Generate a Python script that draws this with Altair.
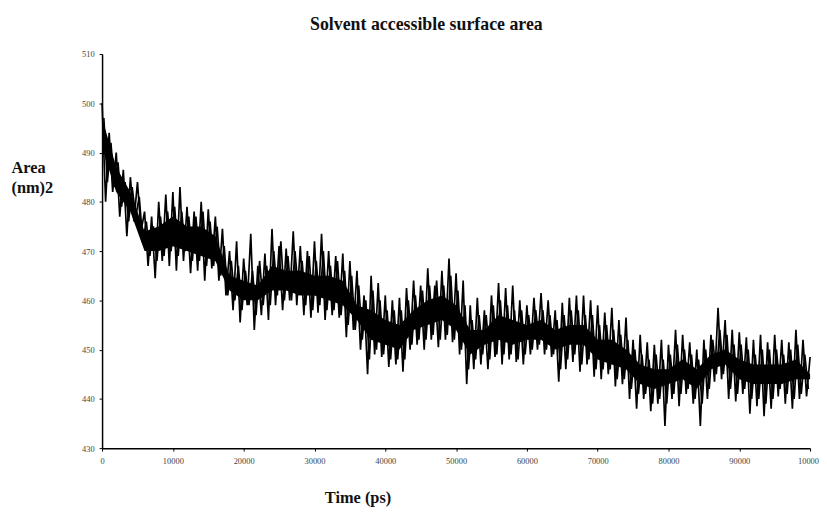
import altair as alt
import pandas as pd

# Outer spike tops, read every 1000 ps (t = 0 .. 100000)
peak_vals = [500, 494, 490, 486.5, 485, 484, 478, 477, 480, 481.5,
             482, 483, 479, 478, 480, 478.5, 477, 474.5, 470, 472,
             468.5, 473.5, 467, 469.5, 474.5, 471, 470.5, 474, 471, 470,
             472, 473.5, 470, 469, 469.5, 468, 466, 461, 465, 463.5,
             461, 460, 460.5, 462.5, 464, 463, 466.5, 463, 466, 468.5,
             465.5, 464, 459, 460.5, 458, 461, 463.5, 462.5, 463, 460,
             459, 460.5, 461.5, 460, 458, 459.5, 460.5, 461, 461, 460,
             459, 457.5, 458.5, 456, 456.5, 452, 453, 451.5, 451, 452,
             451, 454, 453, 451.5, 450, 452, 453, 458.5, 456, 454,
             453.5, 452.5, 452, 453, 451.5, 453, 452, 451.5, 454, 452,
             448.5]

# Outer spike bottoms, read every 1000 ps (t = 500 .. 99500)
trough_vals = [480, 482, 477, 473, 476, 474, 467, 464.5, 468, 467,
               466, 468, 465.5, 466, 464, 466.5, 464, 461, 458, 455.5,
               459, 454, 457, 456, 459, 458, 460, 459, 457, 456.5,
               457.5, 456, 457, 456.5, 452.5, 454, 450, 445, 449, 448.5,
               446.5, 447, 445.5, 450, 451, 450, 452, 450.5, 452, 451.5,
               449, 443, 446, 447, 446, 448.5, 447, 448, 447.5, 447,
               449, 450, 449, 448.5, 443.5, 446, 447.5, 445.5, 447, 444.5,
               444, 445, 442.5, 443, 440, 438, 440, 437.5, 439, 434.5,
               440, 438.5, 441, 439, 434.5, 440, 443.5, 444, 440, 439.5,
               441, 437, 438.5, 436.5, 438, 440.5, 439, 438, 440, 440.5]

# Inner fluctuation tops, every 1000 ps (t = 250 .. 99250)
inner_peak = [497, 492, 488, 484, 483, 481, 476, 475, 477, 478,
              479, 478, 477, 477, 478, 476, 475, 471, 468, 467,
              466, 466, 468, 467, 470, 472, 469, 470, 468, 469,
              468, 470, 467, 468, 466, 465, 463, 460, 462, 460,
              458, 458, 458, 460, 461, 462, 463, 464, 463, 465,
              462, 459, 456, 457, 457, 459, 460, 459, 458, 458,
              457, 458, 458, 457, 456, 457, 458, 458, 457, 457,
              455, 455, 454, 453, 452, 450, 449, 448, 449, 448,
              449, 451, 450, 449, 448, 450, 452, 454, 453, 451,
              451, 450, 449, 450, 450, 450, 449, 450, 451, 449]

# Inner fluctuation bottoms, every 1000 ps (t = 750 .. 99750)
inner_trough = [484, 483, 479, 476, 477, 472, 469, 468, 469, 470,
                469, 470, 468, 468, 467, 467, 465, 461, 460, 458,
                459, 457, 459, 459, 461, 460, 460, 461, 459, 458,
                459, 458, 458, 457, 455, 454, 452, 448, 450, 449,
                448, 448, 448, 451, 452, 452, 453, 452, 453, 452,
                450, 446, 448, 449, 448, 449, 449, 449, 448, 449,
                450, 451, 450, 449, 446, 448, 449, 447, 448, 446,
                446, 446, 444, 444, 442, 441, 441, 439, 440, 439,
                441, 441, 442, 440, 439, 442, 445, 445, 442, 441,
                442, 440, 440, 439, 440, 442, 441, 440, 441, 442]

# Dense core of the trace, every 2000 ps (t = 0 .. 100000)
core_hi = [497, 487, 482, 474, 475, 477, 475, 475, 473, 465,
           464, 463, 467, 466, 466, 465, 465, 464, 459, 458,
           456, 455, 458, 460, 461, 459, 454, 454, 457, 456,
           455, 456, 454, 455, 455, 452, 452, 450, 447, 446,
           446, 448, 446, 449, 450, 448, 447, 447, 447, 448,
           445]
core_lo = [491, 482, 478, 470, 470, 471, 470, 469, 468, 462,
           460, 460, 462, 462, 461, 461, 460, 459, 456, 452,
           451, 450, 454, 455, 456, 454, 449, 451, 452, 451,
           452, 452, 450, 451, 451, 448, 447, 446, 443, 442,
           443, 444, 442, 446, 447, 444, 443, 443, 443, 444,
           444]

x_ticks = list(range(0, 100001, 10000))
y_ticks = list(range(430, 511, 10))

rows = [(i * 1000, v, "outer") for i, v in enumerate(peak_vals)]
rows += [(i * 1000 + 500, v, "outer") for i, v in enumerate(trough_vals)]
rows += [(i * 1000 + 250, v, "inner") for i, v in enumerate(inner_peak)]
rows += [(i * 1000 + 750, v, "inner") for i, v in enumerate(inner_trough)]
line_df = pd.DataFrame(rows, columns=["t", "area", "trace"]).sort_values("t")
band_df = pd.DataFrame({"t": [i * 2000 for i in range(len(core_hi))],
                        "hi": core_hi, "lo": core_lo})

xscale = alt.Scale(domain=[0, 100000], nice=False)
yscale = alt.Scale(domain=[430, 510], nice=False, zero=False)

x_axis = alt.Axis(values=x_ticks, format="d", title="Time (ps)",
                  titleFontSize=16.5, titleFontWeight="bold", titleColor="#111",
                  titleX=258, titleY=55, titleBaseline="alphabetic",
                  titleAnchor="start", titleAlign="center",
                  labelFontSize=8.5, labelColor="#444", labelPadding=6,
                  tickSize=3, domainColor="black", tickColor="black",
                  domainWidth=1.5, grid=False, labelFlush=False)
y_axis = alt.Axis(values=y_ticks, title=["Area", "(nm)2"],
                  titleAngle=0, titleFontSize=16.5, titleFontWeight="bold",
                  titleColor="#111", titleAlign="left", titleBaseline="top",
                  titleX=-92, titleY=107, titleLineHeight=20,
                  labelFontSize=8.5, labelColor="#444", labelPadding=5,
                  tickSize=3, domainColor="black", tickColor="black",
                  domainWidth=1.5, grid=False)

band = alt.Chart(band_df).mark_area(color="black", opacity=1).encode(
    x=alt.X("t:Q", scale=xscale, axis=x_axis),
    y=alt.Y("hi:Q", scale=yscale, axis=y_axis),
    y2="lo:Q",
)
trace = alt.Chart(line_df).mark_line(color="black", strokeWidth=1.7).encode(
    x=alt.X("t:Q", scale=xscale),
    y=alt.Y("area:Q", scale=yscale),
    detail="trace:N",
)

chart = alt.layer(band, trace).properties(
    width=715, height=398,
    title=alt.TitleParams("Solvent accessible surface area", fontSize=18,
                          fontWeight="bold", color="#111", dx=-30, offset=16),
    autosize=alt.AutoSizeParams(type="none"),
    padding={"left": 95, "top": 44, "right": 9, "bottom": 61},
).configure(font="Liberation Serif").configure_view(stroke=None)

chart.save("out.html", embed_options={"renderer": "svg", "actions": False})
